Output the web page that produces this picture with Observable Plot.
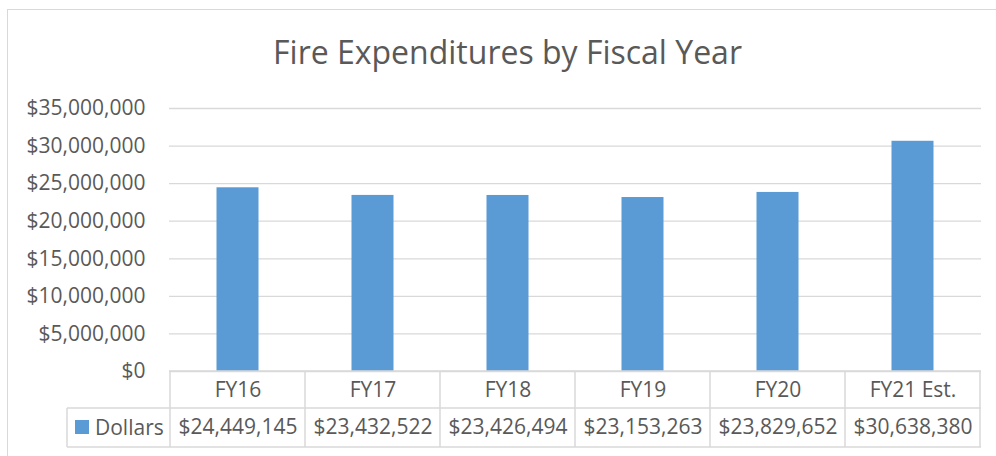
<!DOCTYPE html>
<html>
<head>
<meta charset="utf-8">
<script src="https://cdn.jsdelivr.net/npm/d3@7"></script>
<script src="https://cdn.jsdelivr.net/npm/@observablehq/plot@0.6"></script>
<style>
  html, body { margin: 0; padding: 0; background: #fff; overflow: hidden; }
  #wrap { position: relative; width: 996px; height: 456px; overflow: hidden; font-family: "Open Sans", sans-serif; }
  #border { position: absolute; left: 7px; top: 9px; width: 1200px; height: 700px; border: 1.5px solid #d9d9d9; box-sizing: border-box; }
  #title { position: absolute; left: 0; top: 36px; width: 1015px; text-align: center; font-size: 32px; line-height: 32px; color: #595959; font-weight: 400; white-space: nowrap; }
  #chart { position: absolute; left: 0; top: 0; }
  #chart svg { overflow: visible; }
</style>
</head>
<body>
<div id="wrap">
  <div id="border"></div>
  <div id="title"></div>
  <div id="chart"></div>
</div>
<script>
const chartTitle = "Fire Expenditures by Fiscal Year";
const seriesName = "Dollars";
const categories = ["FY16", "FY17", "FY18", "FY19", "FY20", "FY21 Est."];
const dollars = [24449145, 23432522, 23426494, 23153263, 23829652, 30638380];
const yTicks = [0, 5000000, 10000000, 15000000, 20000000, 25000000, 30000000, 35000000];

const data = categories.map((c, i) => ({cat: c, value: dollars[i]}));
const money = d3.format("$,");
const textColor = "#595959";
const lineColor = "#d9d9d9";
const barColor = "#5B9BD5";
const fontSize = 21;

document.getElementById("title").textContent = chartTitle;

function dataTable(index, scales, values, dims) {
  const x = scales.x;
  const bw = typeof x.bandwidth === "function" ? x.bandwidth() : x.bandwidth;
  const left = dims.marginLeft;
  const right = dims.width - dims.marginRight;
  const y0 = dims.height - dims.marginBottom;
  const r1 = y0 + 37;
  const r2 = y0 + 76;
  const legendLeft = left - 102;
  const g = d3.create("svg:g");
  const lines = g.append("g").attr("stroke", lineColor).attr("stroke-width", 1.5).attr("fill", "none");
  lines.append("line").attr("x1", left).attr("x2", right).attr("y1", y0).attr("y2", y0);
  lines.append("line").attr("x1", legendLeft).attr("x2", right).attr("y1", r1).attr("y2", r1);
  lines.append("line").attr("x1", legendLeft).attr("x2", right).attr("y1", r2).attr("y2", r2);
  const edges = categories.map(c => x(c)).concat([x(categories[categories.length - 1]) + bw]);
  for (const e of edges) {
    lines.append("line").attr("x1", e).attr("x2", e).attr("y1", y0).attr("y2", r2);
  }
  lines.append("line").attr("x1", legendLeft).attr("x2", legendLeft).attr("y1", r1).attr("y2", r2);
  // legend key
  g.append("rect").attr("x", legendLeft + 8).attr("y", r1 + 12).attr("width", 14).attr("height", 14).attr("fill", barColor);
  g.append("text").attr("x", legendLeft + 28).attr("y", (r1 + r2) / 2).attr("dy", "0.35em")
    .attr("text-anchor", "start")
    .attr("fill", textColor).attr("font-size", fontSize).attr("font-family", "Open Sans, sans-serif")
    .text(seriesName);
  return g.node();
}

const plot = Plot.plot({
  width: 996,
  height: 456,
  marginLeft: 169,
  marginRight: 15,
  marginTop: 108,
  marginBottom: 85,
  style: {fontFamily: "Open Sans, sans-serif", fontSize: fontSize + "px", color: textColor, background: "transparent"},
  x: {type: "band", domain: categories, padding: 0, axis: null},
  y: {domain: [0, 35000000], axis: null},
  marks: [
    Plot.gridY(yTicks, {stroke: lineColor, strokeOpacity: 1, strokeWidth: 1.3}),
    Plot.axisY(yTicks, {tickSize: 0, tickPadding: 24, tickFormat: money, fontSize: fontSize, fill: textColor, label: null}),
    Plot.barY(data, {x: "cat", y: "value", fill: barColor, insetLeft: 46.5, insetRight: 46.5}),
    dataTable,
    Plot.text(data, {x: "cat", text: "cat", frameAnchor: "bottom", dy: 25, fontSize: fontSize, fill: textColor}),
    Plot.text(data, {x: "cat", text: d => money(d.value), frameAnchor: "bottom", dy: 62.5, fontSize: fontSize, fill: textColor})
  ]
});
document.getElementById("chart").appendChild(plot);
</script>
</body>
</html>
